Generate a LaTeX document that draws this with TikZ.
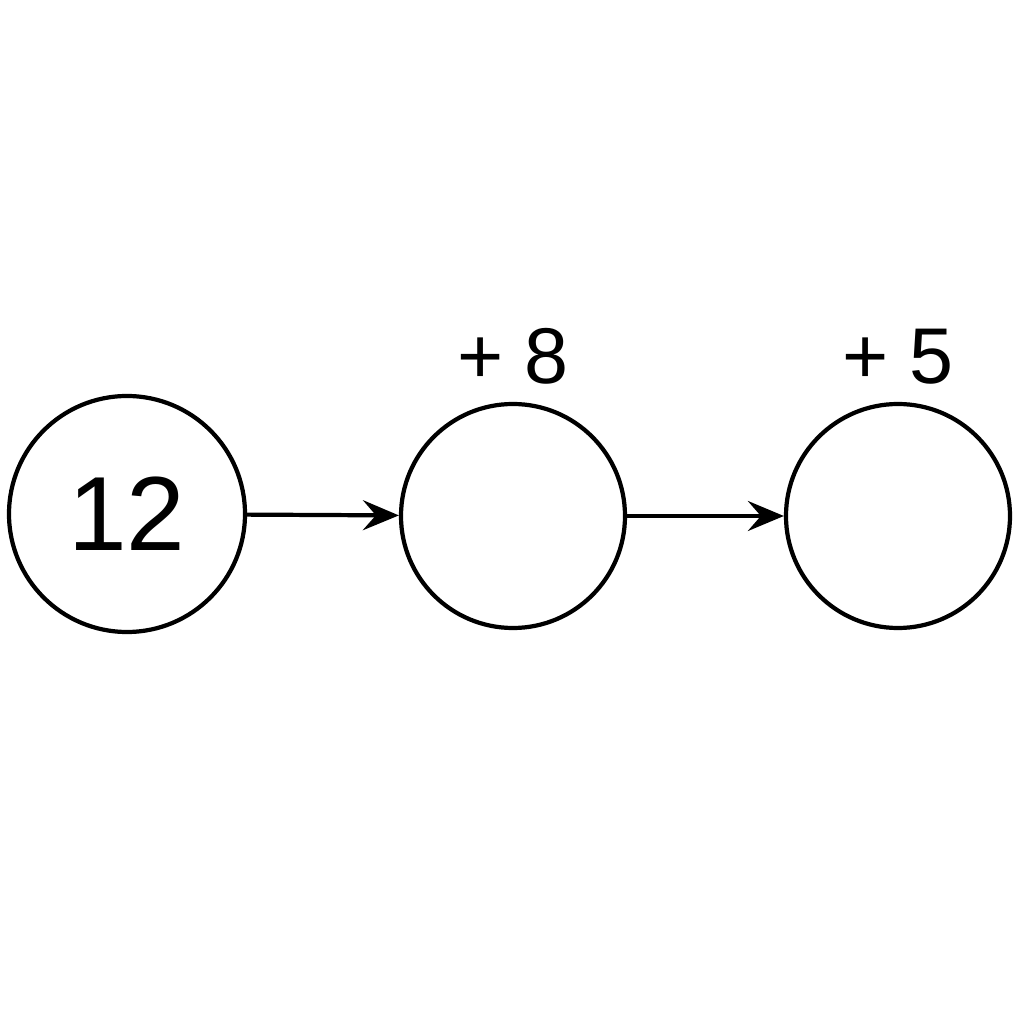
\documentclass[tikz,border=0pt]{standalone}
\usepackage{fontspec}
\setmainfont{Liberation Sans}
\usetikzlibrary{arrows.meta,positioning}
\tikzset{
  state/.style={draw, circle, line width=1.2pt, inner sep=0pt},
  link/.style={line width=1.2pt, -{Stealth[length=3.6mm, width=3mm, inset=1.3mm]}},
  step label/.style={inner sep=0pt, font=\fontsize{22.5}{27}\selectfont}
}
\begin{document}
\begin{tikzpicture}
\useasboundingbox (0,0) rectangle (10.24,10.24);
% Circles
\node[state, minimum size=2.36cm, font=\fontsize{30}{36}\selectfont] (start) at (1.27,5.1) {12};
\node[state, minimum size=2.24cm] (mid) at (5.13,5.08) {};
\node[state, minimum size=2.24cm] (end) at (8.98,5.08) {};
% Step labels
\node[step label, above=0.17cm of mid] (plus8) {+\hspace{0.2cm}8};
\node[step label, above=0.17cm of end] (plus5) {+\hspace{0.2cm}5};
% Arrows
\draw[link] (start) -- (mid);
\draw[link] (mid) -- (end);
\end{tikzpicture}
\end{document}
